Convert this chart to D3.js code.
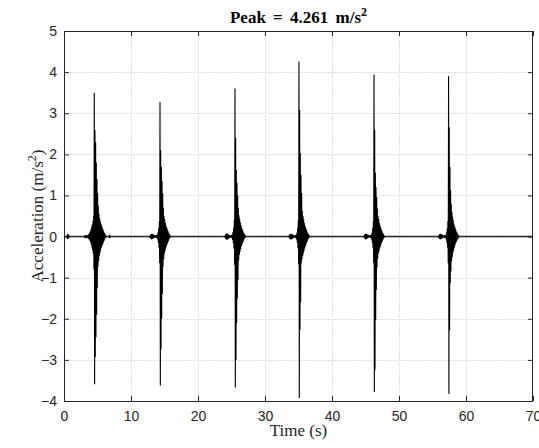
<!DOCTYPE html>
<html>
<head>
<meta charset="utf-8">
<script src="https://cdn.jsdelivr.net/npm/d3@7"></script>
<style>
  html, body { margin: 0; padding: 0; background: #fff; }
  svg { display: block; }
</style>
</head>
<body>
<svg id="chart" width="539" height="448"></svg>
<script>
// ---------------- data ----------------
const titleText = "Peak = 4.261 m/s";
const xLabel = "Time (s)";
const yLabel = "Acceleration (m/s";
const xTicks = [0, 10, 20, 30, 40, 50, 60, 70];
const yTicks = [-4, -3, -2, -1, 0, 1, 2, 3, 4, 5];
const xDomain = [0, 70];
const yDomain = [-4, 5];

// impact times (s) and sample step (s)
const burstTimes = [4.52, 14.33, 25.52, 35.07, 46.27, 57.40];
const sampleStep = 0.05;
const peakIndex = 30; // index of positive peak in each burst array (array starts 1.5 s before it)

const burst1 = [0.01,-0.01,0.01,-0.01,0.01,-0.01,0.01,-0.01,0.01,-0.01,0.02,-0.02,
  0.04,-0.05,0.06,-0.07,0.09,-0.1,0.12,-0.14,0.17,-0.2,0.24,-0.27,0.3,-0.33,0.38,-0.42,0.5,-0.8,
  3.50,-3.59,2.59,-2.93,2.3,-2.45,1.8,-1.9,1.4,-1.25,1.06,-0.74,0.75,-0.6,0.55,-0.48,0.45,-0.4,
  0.38,-0.34,0.32,-0.28,0.27,-0.23,0.22,-0.19,0.17,-0.15,0.13,-0.11,0.09,-0.07,0.06,-0.04,0.03,-0.02];
const burst2 = [0.02,-0.03,0.04,-0.05,0.06,-0.07,0.07,-0.06,0.06,-0.05,0.05,-0.04,0.04,-0.03,0.03,-0.02,0.02,-0.02,0.01,
  -0.01,0.01,-0.01,
  0.04,-0.07,0.1,-0.15,0.2,-0.27,0.38,-0.65,
  3.28,-3.62,2.1,-2.75,1.7,-2.0,1.35,-1.4,1.05,-0.74,0.7,-0.55,0.5,-0.42,0.42,-0.36,
  0.33,-0.29,0.27,-0.24,0.22,-0.19,0.17,-0.15,0.13,-0.11,0.09,-0.07,0.06,-0.04,0.03,-0.02];
const burst3 = [0.02,-0.03,0.05,-0.06,0.07,-0.08,0.08,-0.07,0.07,-0.06,0.05,-0.05,0.04,-0.03,0.03,-0.02,0.02,-0.02,0.01,
  -0.01,0.01,-0.01,
  0.05,-0.08,0.11,-0.16,0.22,-0.29,0.4,-0.7,
  3.60,-3.67,2.4,-3.0,1.62,-2.1,1.3,-1.5,1.0,-1.06,0.7,-0.58,0.52,-0.45,0.43,-0.37,
  0.34,-0.3,0.28,-0.24,0.22,-0.19,0.17,-0.15,0.13,-0.11,0.09,-0.07,0.06,-0.04,0.03,-0.02];
const burst4 = [0.02,-0.03,0.04,-0.05,0.06,-0.07,0.07,-0.07,0.06,-0.06,0.05,-0.05,0.04,-0.03,0.03,-0.02,0.02,-0.02,0.01,
  -0.01,0.01,-0.01,
  0.04,-0.07,0.1,-0.15,0.21,-0.28,0.4,-0.68,
  4.261,-3.93,3.08,-2.27,2.03,-1.6,1.5,-0.65,1.06,-0.55,0.62,-0.48,0.5,-0.42,0.42,-0.36,
  0.33,-0.29,0.27,-0.24,0.22,-0.19,0.17,-0.15,0.13,-0.11,0.09,-0.07,0.06,-0.04,0.03,-0.02];
const burst5 = [0.02,-0.03,0.04,-0.05,0.06,-0.07,0.07,-0.06,0.06,-0.05,0.05,-0.04,0.04,-0.03,0.03,-0.02,0.02,-0.02,0.01,
  -0.01,0.01,-0.01,
  0.04,-0.07,0.1,-0.15,0.2,-0.27,0.38,-0.65,
  3.94,-3.78,2.59,-3.25,1.55,-2.03,1.2,-1.3,0.96,-0.75,0.68,-0.54,0.5,-0.42,0.42,-0.36,
  0.33,-0.29,0.27,-0.24,0.22,-0.19,0.17,-0.15,0.13,-0.11,0.09,-0.07,0.06,-0.04,0.03,-0.02];
const burst6 = [0.02,-0.03,0.04,-0.05,0.06,-0.07,0.07,-0.06,0.06,-0.05,0.05,-0.04,0.04,-0.03,0.03,-0.02,0.02,-0.02,0.01,
  -0.01,0.01,-0.01,
  0.04,-0.07,0.1,-0.15,0.2,-0.27,0.38,-0.65,
  3.90,-3.83,2.66,-2.27,1.69,-1.13,1.13,-0.85,0.8,-0.6,0.6,-0.5,0.48,-0.4,0.4,-0.34,
  0.31,-0.27,0.25,-0.22,0.2,-0.17,0.15,-0.13,0.11,-0.09,0.08,-0.06,0.05,-0.04,0.03,-0.02];
const bursts = [burst1, burst2, burst3, burst4, burst5, burst6];

// small isolated blips on the baseline (start time, values)
const blipTimes = [0.45, 6.7];
const blip1 = [0.03,-0.05,0.06,-0.06,0.05,-0.04,0.03];
const blip2 = [0.02,-0.03,0.04,-0.03,0.02];
const blips = [blip1, blip2];

// ---------------- layout ----------------
const svg = d3.select("#chart");
const plot = { left: 64, top: 31, right: 533, bottom: 401 };
const x = d3.scaleLinear().domain(xDomain).range([plot.left, plot.right]);
const y = d3.scaleLinear().domain(yDomain).range([plot.bottom, plot.top]);

// grid
const grid = svg.append("g").attr("stroke", "#dedede").attr("stroke-width", 1).attr("stroke-dasharray", "2,1");
grid.selectAll("line.gx").data(xTicks.slice(1, -1)).enter().append("line")
  .attr("x1", d => Math.round(x(d)) + 0.5).attr("x2", d => Math.round(x(d)) + 0.5)
  .attr("y1", plot.top).attr("y2", plot.bottom);
grid.selectAll("line.gy").data(yTicks.slice(1, -1)).enter().append("line")
  .attr("y1", d => Math.round(y(d)) + 0.5).attr("y2", d => Math.round(y(d)) + 0.5)
  .attr("x1", plot.left).attr("x2", plot.right);

// build signal points
function burstPoints(vals, t0) {
  return vals.map((v, i) => [t0 + (i - peakIndex) * sampleStep, v]);
}
const line = d3.line().x(d => x(d[0])).y(d => y(d[1]));

// baseline (flat between bursts)
const baseline = [[xDomain[0], 0], [xDomain[1], 0]];
svg.append("path").attr("d", line(baseline))
  .attr("fill", "none").attr("stroke", "#2a2a2a").attr("stroke-width", 1.6);

const dataG = svg.append("g");
bursts.forEach((vals, k) => {
  dataG.append("path").attr("d", line(burstPoints(vals, burstTimes[k])))
    .attr("fill", "none").attr("stroke", "#000").attr("stroke-width", 1.1)
    .attr("stroke-linejoin", "miter");
});
blips.forEach((vals, k) => {
  const pts = vals.map((v, i) => [blipTimes[k] + i * sampleStep, v]);
  dataG.append("path").attr("d", line(pts))
    .attr("fill", "none").attr("stroke", "#000").attr("stroke-width", 1.1);
});

// axes
const axisColor = "#262626";
function styleAxis(g, showLabels) {
  g.select(".domain").remove();
  g.selectAll(".tick line").attr("stroke", axisColor).attr("stroke-width", 1);
  g.selectAll(".tick text").attr("fill", axisColor)
    .attr("font-family", "'Liberation Sans', Arial, sans-serif").attr("font-size", 14);
  if (!showLabels) g.selectAll(".tick text").remove();
}
const tickLen = 5;
svg.append("g").attr("transform", `translate(0,${plot.bottom})`)
  .call(d3.axisBottom(x).tickValues(xTicks).tickSizeInner(-tickLen).tickSizeOuter(0).tickPadding(10))
  .call(g => styleAxis(g, true));
svg.append("g").attr("transform", `translate(0,${plot.top})`)
  .call(d3.axisTop(x).tickValues(xTicks).tickSizeInner(-tickLen).tickSizeOuter(0))
  .call(g => styleAxis(g, false));
svg.append("g").attr("transform", `translate(${plot.left},0)`)
  .call(d3.axisLeft(y).tickValues(yTicks).tickSizeInner(-tickLen).tickSizeOuter(0).tickPadding(7))
  .call(g => styleAxis(g, true));
svg.append("g").attr("transform", `translate(${plot.right},0)`)
  .call(d3.axisRight(y).tickValues(yTicks).tickSizeInner(-tickLen).tickSizeOuter(0))
  .call(g => styleAxis(g, false));

// box
svg.append("rect")
  .attr("x", plot.left + 0.5).attr("y", plot.top + 0.5)
  .attr("width", plot.right - plot.left - 1).attr("height", plot.bottom - plot.top)
  .attr("fill", "none").attr("stroke", axisColor).attr("stroke-width", 1);

// title
const serif = "'Liberation Serif', 'Times New Roman', serif";
const title = svg.append("text")
  .attr("x", (plot.left + plot.right) / 2).attr("y", 23)
  .attr("text-anchor", "middle").attr("font-family", serif)
  .attr("font-weight", "bold").attr("font-size", 17).attr("word-spacing", 3).attr("fill", "#000");
title.append("tspan").text(titleText);
title.append("tspan").attr("font-size", 12).attr("dy", -7).text("2");

// x label
svg.append("text")
  .attr("x", (plot.left + plot.right) / 2).attr("y", 436)
  .attr("text-anchor", "middle").attr("font-family", serif)
  .attr("font-size", 17).attr("fill", axisColor).text(xLabel);

// y label
const yl = svg.append("text")
  .attr("transform", `translate(43,${(plot.top + plot.bottom) / 2}) rotate(-90)`)
  .attr("text-anchor", "middle").attr("font-family", serif)
  .attr("font-size", 17).attr("fill", axisColor);
yl.append("tspan").text(yLabel);
yl.append("tspan").attr("font-size", 12).attr("dy", -7).text("2");
yl.append("tspan").attr("dy", 7).text(")");
</script>
</body>
</html>
